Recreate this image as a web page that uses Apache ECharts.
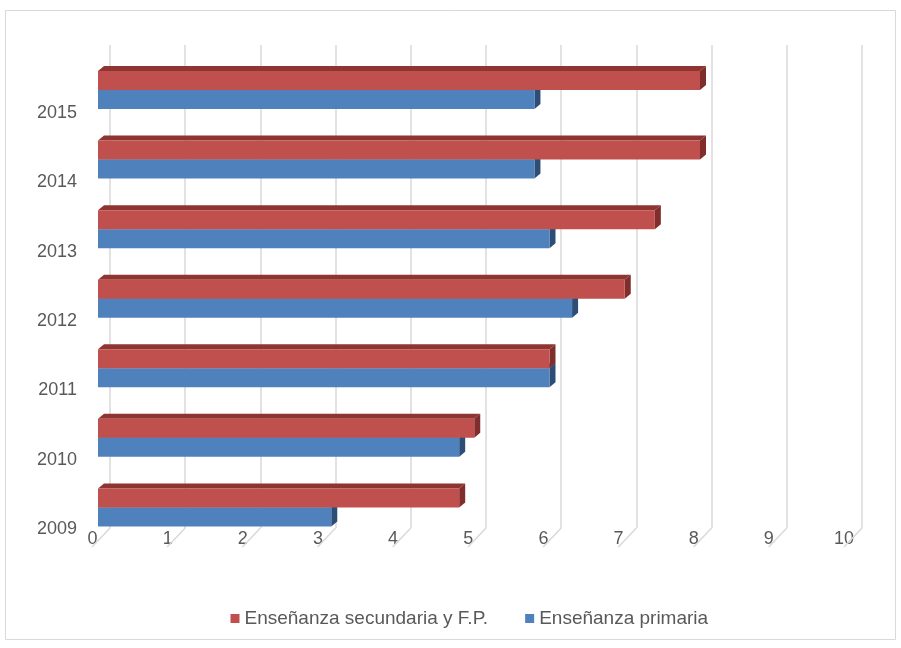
<!DOCTYPE html>
<html><head><meta charset="utf-8">
<script src="https://cdn.jsdelivr.net/npm/echarts@6/dist/echarts.min.js"></script>
<style>html,body{margin:0;padding:0;background:#fff}#c{width:901px;height:648px}</style>
</head><body><div id="c"></div>
<script>
const years = ['2009','2010','2011','2012','2013','2014','2015'];
const secundaria = [4.8, 5.0, 6.0, 7.0, 7.4, 8.0, 8.0];
const primaria = [3.1, 4.8, 6.0, 6.3, 6.0, 5.8, 5.8];
const xTicks = [0,1,2,3,4,5,6,7,8,9,10];
const seriesNames = ['Enseñanza secundaria y F.P.', 'Enseñanza primaria'];

const FONT = '"Liberation Sans", Arial, sans-serif';
const TXT = '#595959';
const GRIDC = '#d9d9d9';
const BH = 19, DX = 6, DY = 5;

function bar3D(upper, front, top, side) {
  return function (params, api) {
    const idx = api.value(1), val = api.value(0);
    const a = api.coord([0, idx]), b = api.coord([val, idx]);
    const y = upper ? a[1] - BH : a[1];
    const x0 = a[0], x1 = b[0];
    return {type: 'group', children: [
      {type: 'polygon', shape: {points: [[x0, y], [x0 + DX, y - DY], [x1 + DX, y - DY], [x1, y]]}, style: {fill: top}},
      {type: 'polygon', shape: {points: [[x1, y], [x1 + DX, y - DY], [x1 + DX, y + BH - DY], [x1, y + BH]]}, style: {fill: side}},
      {type: 'rect', shape: {x: x0, y: y, width: x1 - x0, height: BH}, style: {fill: front}}
    ]};
  };
}

const chart = echarts.init(document.getElementById('c'));
chart.setOption({
  backgroundColor: '#fff',
  animation: false,
  textStyle: {fontFamily: FONT},
  graphic: [{type: 'rect', shape: {x: 5.5, y: 10.5, width: 890, height: 629}, style: {fill: 'none', stroke: GRIDC, lineWidth: 1}, silent: true, z: -1}],
  grid: [
    {left: 110, top: 45, width: 752, height: 483},
    {left: 98, top: 55.2, width: 752.5, height: 487},
    {left: 92.5, top: 45, width: 751.5, height: 483},
    {left: 85, top: 78.3, width: 700, height: 485.5}
  ],
  xAxis: [
    {gridIndex: 0, type: 'value', min: 0, max: 10, interval: 1, axisLabel: {show: false}, axisLine: {show: false}, axisTick: {show: false},
     splitLine: {show: true, lineStyle: {color: GRIDC, width: 1.5}}},
    {gridIndex: 1, type: 'value', min: 0, max: 10, show: false},
    {gridIndex: 2, type: 'value', min: 0, max: 10, interval: 1, axisLine: {show: false}, axisTick: {show: false}, splitLine: {show: false},
     axisLabel: {fontSize: 18, color: TXT, margin: 2, fontFamily: FONT}},
    {gridIndex: 3, type: 'value', show: false}
  ],
  yAxis: [
    {gridIndex: 0, type: 'value', min: 0, max: 1, show: false},
    {gridIndex: 1, type: 'category', data: years, show: false},
    {gridIndex: 2, type: 'value', min: 0, max: 1, show: false},
    {gridIndex: 3, type: 'category', data: years, axisLine: {show: false}, axisTick: {show: false},
     axisLabel: {fontSize: 18, color: TXT, margin: 8, fontFamily: FONT}}
  ],
  legend: {
    data: seriesNames, left: 230.5, top: 609, padding: 0, icon: 'rect', itemWidth: 9, itemHeight: 9, itemGap: 37,
    textStyle: {fontSize: 19, color: TXT, fontFamily: FONT}
  },
  series: [
    {type: 'custom', xAxisIndex: 0, yAxisIndex: 0, silent: true, clip: false, z: 1,
     data: xTicks.map(v => [v, 0]),
     renderItem: function (params, api) {
       const p = api.coord([api.value(0), 0]);
       return {type: 'line', shape: {x1: p[0], y1: p[1], x2: p[0] - 18, y2: p[1] + 19}, style: {stroke: GRIDC, lineWidth: 1.5}};
     }},
    {type: 'custom', name: seriesNames[1], xAxisIndex: 1, yAxisIndex: 1, clip: false, z: 3,
     itemStyle: {color: '#4F81BD'}, encode: {x: 0, y: 1},
     data: primaria.map((v, i) => [v, i]),
     renderItem: bar3D(false, '#4F81BD', '#3A6192', '#2C4D76')},
    {type: 'custom', name: seriesNames[0], xAxisIndex: 1, yAxisIndex: 1, clip: false, z: 4,
     itemStyle: {color: '#C0504D'}, encode: {x: 0, y: 1},
     data: secundaria.map((v, i) => [v, i]),
     renderItem: bar3D(true, '#C0504D', '#8E3532', '#7F2E2C')}
  ]
});
</script></body></html>
